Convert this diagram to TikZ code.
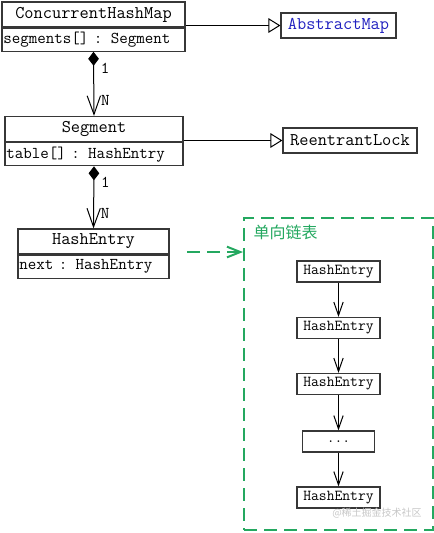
\documentclass[tikz,border=0pt]{standalone}
\usepackage{fontspec}
\newfontfamily\cjkfont{Noto Sans CJK SC}
\usetikzlibrary{arrows.meta}
\usetikzlibrary{positioning}
\definecolor{listgreen}{RGB}{36,168,96}
\definecolor{mapblue}{RGB}{32,32,192}
\definecolor{boxgray}{RGB}{55,55,55}

\tikzset{
  classhead/.style={draw=boxgray, fill=white, line width=0.9pt, inner sep=0pt,
    minimum width=#1, minimum height=18.75pt, font=\fontsize{13.4}{15}\selectfont\ttfamily},
  classattr/.style={draw=boxgray, fill=white, line width=0.9pt, anchor=north,
    inner xsep=1pt, inner ysep=0pt, text width=#1, align=left,
    minimum height=17.25pt, font=\fontsize{12.4}{14}\selectfont\ttfamily},
  entrybox/.style={draw=boxgray, fill=white, line width=0.9pt, inner sep=0pt,
    minimum width=#1, minimum height=15.75pt, font=\fontsize{11.4}{13}\selectfont\ttfamily},
  compose/.style={line width=0.75pt, {Diamond[length=10.5pt,width=8pt]}-{Straight Barb[length=14pt,width=10pt]}},
  inherit/.style={line width=0.75pt, -{Triangle[open,length=9pt,width=11pt,fill=white]}},
  nextlink/.style={line width=0.75pt, -{Straight Barb[length=10pt,width=7pt]}},
  multlabel/.style={right, inner xsep=5pt, inner ysep=2pt, font=\fontsize{12.4}{14}\selectfont\ttfamily},
}

\begin{document}
\begin{tikzpicture}[x=0.75pt,y=0.75pt,yscale=-1,xscale=1]
  \useasboundingbox (0,0) rectangle (434,533);

  % classes
  \node[classhead=137.25pt] (chm) at (93.5,14.5) {ConcurrentHashMap};
  \node[classattr=135.25pt] (chm-attr) at (chm.south) {segments[] : Segment};
  \node[classhead=133.5pt] (seg) at (94,129) {Segment};
  \node[classattr=131.5pt] (seg-attr) at (seg.south) {table[] : HashEntry};
  \node[classhead=113.25pt] (he) at (93.5,241.5) {HashEntry};
  \node[classattr=111.25pt] (he-attr) at (he.south) {next : HashEntry};

  \node[classhead=86.25pt, text=mapblue] (am) at (338.5,25.5) {AbstractMap};
  \node[classhead=100.5pt] (rl) at (350,140.5) {ReentrantLock};

  % associations
  \draw[compose] (chm-attr.south) -- node[pos=0.26,multlabel] {1} node[pos=0.76,multlabel] {N} (seg.north);
  \draw[compose] (seg-attr.south) -- node[pos=0.26,multlabel] {1} node[pos=0.76,multlabel] {N} (he.north);
  \draw[inherit] (chm.south east |- am.west) -- (am.west);
  \draw[inherit] (seg.south east |- rl.west) -- (rl.west);

  % linked list
  \node[draw=listgreen, line width=1.5pt, dash pattern=on 10pt off 5pt,
    minimum width=141.75pt, minimum height=234pt] (list) at (338.5,374) {};
  \node[text=listgreen, font=\fontsize{12}{14}\selectfont\cjkfont] (list-title) at (285.5,232) {单向链表};
  \coordinate (he-out) at (187,252);
  \draw[listgreen, line width=1.5pt, dash pattern=on 10pt off 5pt,
    -{Straight Barb[length=10pt,width=8pt]}] (he-out) -- (list.west |- he-out);

  \node[entrybox=62.25pt] (e1) at (338.5,271.5) {HashEntry};
  \node[entrybox=62.25pt] (e2) at (338.5,328) {HashEntry};
  \node[entrybox=62.25pt] (e3) at (338.5,384) {HashEntry};
  \node[entrybox=54pt] (e4) at (338.5,441.5) {...};
  \node[entrybox=62.25pt] (e5) at (338.5,497.5) {HashEntry};
  \foreach \a/\b in {e1/e2,e2/e3,e3/e4,e4/e5}
    \draw[nextlink] (\a.south) -- (\b.north);

  \node[text=black!22, font=\fontsize{7.5}{9}\selectfont\cjkfont] (mark) at (377,513) {@稀土掘金技术社区};
\end{tikzpicture}
\end{document}
